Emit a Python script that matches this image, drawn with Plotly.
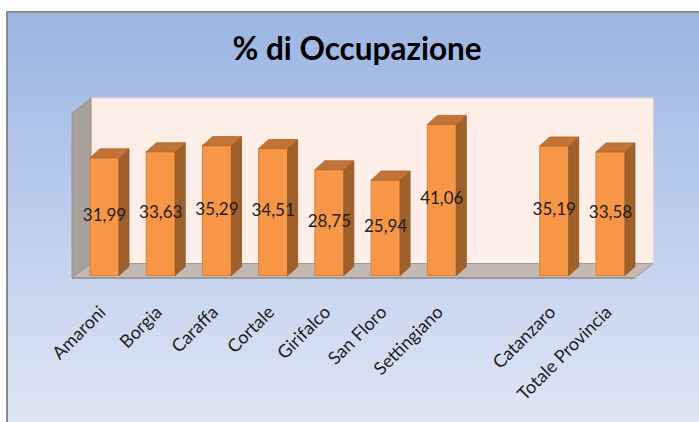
import plotly.graph_objects as go

# Occupancy rate by municipality (blank slot separates the local totals)
categories = ["Amaroni", "Borgia", "Caraffa", "Cortale", "Girifalco",
              "San Floro", "Settingiano", "", "Catanzaro", "Totale Provincia"]
values = [31.99, 33.63, 35.29, 34.51, 28.75, 25.94, 41.06, None, 35.19, 33.58]
title_text = "% di Occupazione"

# --- geometry of the pseudo-3D box (data units) ---
BAR_W = 0.516          # width of bar front face (category units)
BAR_DX = 0.178         # bar depth offset along x
BAR_DY = 2.45          # bar depth offset along y
X_RANGE = [-0.7915, 10.059]
Y_RANGE = [-3.94, 50.41]

WALL_TOP = 48.2
WALL_LEFT_FRONT_TOP = 44.16
FLOOR_FRONT_Y = -0.68
FLOOR_BACK_Y = 3.26
FLOOR_FL_X = -0.578
FLOOR_BL_X = -0.240
FLOOR_FR_X = 9.436
FLOOR_BR_X = 9.757

FRONT = "#f79646"
FRONT_EDGE = "#d9813d"
TOP = "#c27336"
SIDE = "#a0602b"
FONT = "Lato"

W, H = 699, 422
M_L, M_R, M_T, M_B = 60, 29, 90, 132

fig = go.Figure()

xs = [i for i, v in enumerate(values) if v is not None]
vs = [v for v in values if v is not None]

# front faces
fig.add_trace(go.Bar(
    x=xs, y=vs, width=BAR_W,
    marker=dict(color=FRONT, line=dict(color=FRONT_EDGE, width=1)),
    hoverinfo="skip", showlegend=False,
))

# side and top faces derived from each value
for x, v in zip(xs, vs):
    r = x + BAR_W / 2
    l = x - BAR_W / 2
    fig.add_trace(go.Scatter(
        x=[r, r + BAR_DX, r + BAR_DX, r, r],
        y=[0, BAR_DY, v + BAR_DY, v, 0],
        fill="toself", fillcolor=SIDE, mode="lines",
        line=dict(color="#8f5424", width=0.8),
        hoverinfo="skip", showlegend=False,
    ))
    fig.add_trace(go.Scatter(
        x=[l, l + BAR_DX, r + BAR_DX, r, l],
        y=[v, v + BAR_DY, v + BAR_DY, v, v],
        fill="toself", fillcolor=TOP, mode="lines",
        line=dict(color="#b0662d", width=0.8),
        hoverinfo="skip", showlegend=False,
    ))

# value labels centred in each bar
fig.add_trace(go.Scatter(
    x=xs, y=[v / 2 for v in vs], mode="text",
    text=[f"{v:.2f}".replace(".", ",") for v in vs],
    textfont=dict(family=FONT, size=17, color="#1e1e1e"),
    hoverinfo="skip", showlegend=False, cliponaxis=False,
))

shapes = []

# background gradient of the chart area (paper coords extend past plot area)
def px_to_paper_x(px):
    return (px - M_L) / (W - M_L - M_R)

def px_to_paper_y(py):
    return (H - M_B - py) / (H - M_T - M_B)

top_c = (155, 181, 227)
bot_c = (223, 230, 245)
y0_px, y1_px = 12, 422
n = 60
for k in range(n):
    a = y0_px + (y1_px - y0_px) * k / n
    b = y0_px + (y1_px - y0_px) * (k + 1) / n + 0.6
    t = (k + 0.5) / n
    c = tuple(round(top_c[j] + (bot_c[j] - top_c[j]) * t) for j in range(3))
    shapes.append(dict(
        type="rect", xref="paper", yref="paper", layer="below",
        x0=px_to_paper_x(7), x1=px_to_paper_x(705),
        y0=px_to_paper_y(a), y1=px_to_paper_y(b),
        fillcolor=f"rgb{c}", line=dict(width=0),
    ))

# outer frame lines
shapes.append(dict(type="line", xref="paper", yref="paper", layer="below",
                   x0=px_to_paper_x(6.5), x1=px_to_paper_x(705),
                   y0=px_to_paper_y(12), y1=px_to_paper_y(12),
                   line=dict(color="#8a8a8a", width=2)))
shapes.append(dict(type="line", xref="paper", yref="paper", layer="below",
                   x0=px_to_paper_x(7), x1=px_to_paper_x(7),
                   y0=px_to_paper_y(11), y1=px_to_paper_y(430),
                   line=dict(color="#8a8a8a", width=2)))

# back wall
shapes.append(dict(type="rect", xref="x", yref="y", layer="below",
                   x0=FLOOR_BL_X, x1=FLOOR_BR_X, y0=FLOOR_BACK_Y, y1=WALL_TOP,
                   fillcolor="#fdefe7", line=dict(color="#f6e2d8", width=1)))
# left side wall
shapes.append(dict(type="path", xref="x", yref="y", layer="below",
                   path=(f"M {FLOOR_FL_X},{FLOOR_FRONT_Y} L {FLOOR_FL_X},{WALL_LEFT_FRONT_TOP} "
                         f"L {FLOOR_BL_X},{WALL_TOP} L {FLOOR_BL_X},{FLOOR_BACK_Y} Z"),
                   fillcolor="#a69f9a", line=dict(color="#9a938e", width=1)))
# floor
shapes.append(dict(type="path", xref="x", yref="y", layer="below",
                   path=(f"M {FLOOR_FL_X},{FLOOR_FRONT_Y} L {FLOOR_BL_X},{FLOOR_BACK_Y} "
                         f"L {FLOOR_BR_X},{FLOOR_BACK_Y} L {FLOOR_FR_X},{FLOOR_FRONT_Y} Z"),
                   fillcolor="#c3b9b4", line=dict(color="#a29a95", width=1)))
shapes.append(dict(type="line", xref="x", yref="y", layer="below",
                   x0=FLOOR_FL_X, x1=FLOOR_FR_X, y0=FLOOR_FRONT_Y, y1=FLOOR_FRONT_Y,
                   line=dict(color="#9a9a9a", width=2)))

fig.update_layout(
    width=W, height=H,
    margin=dict(l=M_L, r=M_R, t=M_T, b=M_B, pad=0),
    paper_bgcolor="white",
    plot_bgcolor="rgba(0,0,0,0)",
    shapes=shapes,
    barmode="overlay",
    title=dict(
        text=f"<b>{title_text}</b>",
        font=dict(family=FONT, size=31.5, color="#000000"),
        x=357 / W, xanchor="center",
        y=1 - 49 / H, yanchor="middle", yref="container",
    ),
    xaxis=dict(
        range=X_RANGE, tickmode="array",
        tickvals=list(range(len(categories))), ticktext=categories,
        tickangle=-45, showgrid=False, zeroline=False, showline=False,
        ticks="", tickfont=dict(family=FONT, size=18, color="#1e1e1e"),
        ticklabelstandoff=7, ticklabelshift=-4,
        fixedrange=True,
    ),
    yaxis=dict(range=Y_RANGE, visible=False, fixedrange=True),
)

fig.write_html("out.html")
